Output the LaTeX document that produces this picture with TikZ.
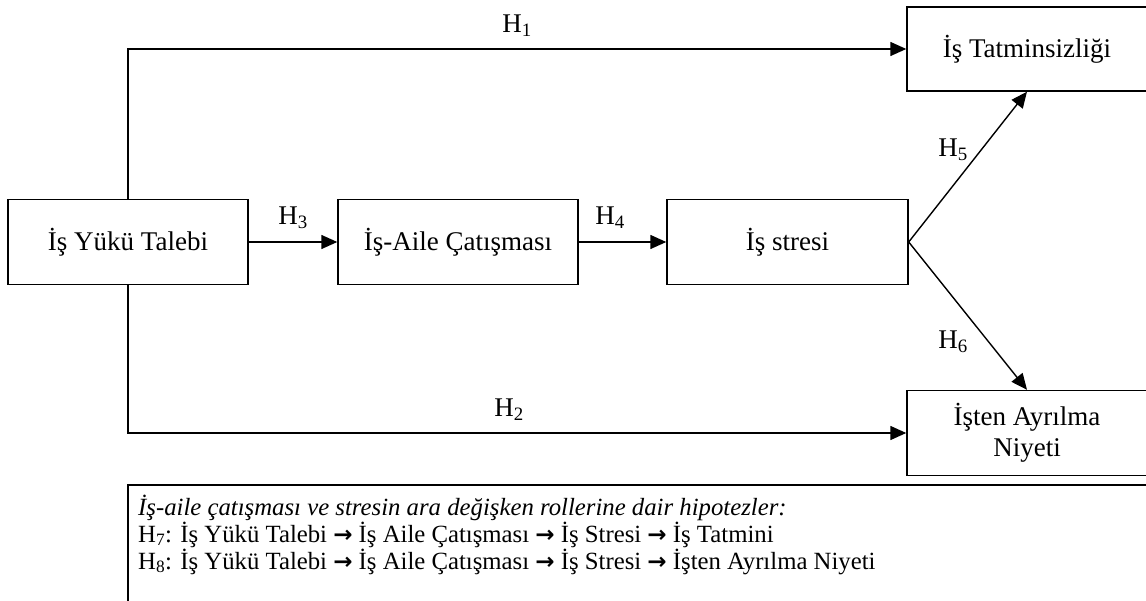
\documentclass[tikz,border=0pt]{standalone}
\usepackage{fontspec}
\setmainfont{Liberation Serif}
\newfontfamily\arrfont{DejaVu Sans}
\usetikzlibrary{arrows.meta}
\newcommand{\rarr}{{\arrfont\bfseries\fontsize{23}{26}\selectfont →}}
\begin{document}
\begin{tikzpicture}[x=1pt,y=-1pt,
  every node/.style={font=\fontsize{27}{31}\selectfont},
  box/.style={draw,line width=1.4pt,minimum width=240pt,minimum height=85pt,inner sep=0pt,align=center},
  arr/.style={line width=1.4pt,-{Triangle[length=16pt,width=14pt]}},
  lbl/.style={inner sep=0pt},
  foot/.style={anchor=base west,inner sep=0pt,font=\fontsize{24.75}{28}\selectfont}]
\clip (0,0) rectangle (1146,601);
\fill[white] (0,0) rectangle (1146,601);
\node[box] (A) at (128,242) {İş Yükü Talebi};
\node[box] (B) at (458,242) {İş-Aile Çatışması};
\node[box,minimum width=241pt] (C) at (787.5,242) {İş stresi};
\node[box,minimum height=84pt] (D) at (1027,49) {İş Tatminsizliği};
\node[box] (E) at (1027,433) {İşten Ayrılma\\Niyeti};
\draw[arr] (A.north) |- (D.west);
\draw[arr] (A.south) |- (E.west);
\draw[arr] (A) -- (B);
\draw[arr] (B) -- (C);
\draw[arr] (C.east) -- (D.south);
\draw[arr] (C.east) -- (E.north);
\node[lbl] (h1) at (517,26) {H\textsubscript{1}};
\node[lbl] (h2) at (509,410) {H\textsubscript{2}};
\node[lbl] (h3) at (293,218) {H\textsubscript{3}};
\node[lbl] (h4) at (610,218) {H\textsubscript{4}};
\node[lbl] (h5) at (953,150) {H\textsubscript{5}};
\node[lbl] (h6) at (953,342) {H\textsubscript{6}};
\draw[line width=1.4pt] (1160,485) -| (128,610);
\node[foot] (f1) at (138,515) {\textit{İş-aile çatışması ve stresin ara değişken rollerine dair hipotezler:}};
\node[foot] (f2) at (138,542) {H\textsubscript{7}: İş Yükü Talebi \rarr{} İş Aile Çatışması \rarr{} İş Stresi \rarr{} İş Tatmini};
\node[foot] (f3) at (138,569) {H\textsubscript{8}: İş Yükü Talebi \rarr{} İş Aile Çatışması \rarr{} İş Stresi \rarr{} İşten Ayrılma Niyeti};
\end{tikzpicture}
\end{document}
